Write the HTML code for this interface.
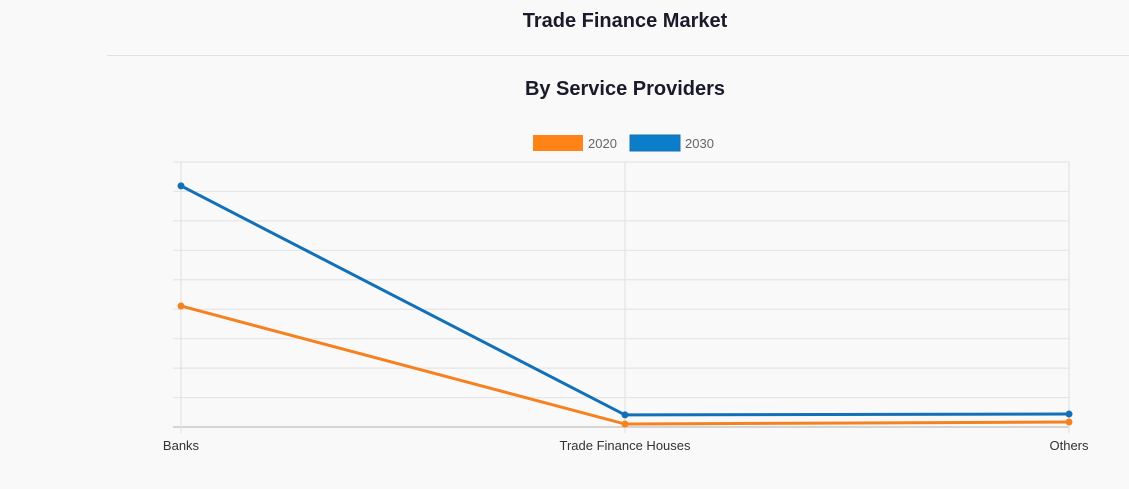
<!DOCTYPE html>
<html><head><meta charset="utf-8"><style>
body{margin:0;background:#f9f9f9;width:1129px;height:484px;overflow:hidden;font-family:"Liberation Sans",sans-serif;}
</style></head><body>
<svg width="1129" height="484" xmlns="http://www.w3.org/2000/svg">
<text x="625" y="27" text-anchor="middle" font-size="20" font-weight="bold" fill="#1a1a2a">Trade Finance Market</text>
<line x1="107" y1="55.5" x2="1129" y2="55.5" stroke="#e2e2e2"/>
<text x="625" y="95" text-anchor="middle" font-size="20" font-weight="bold" fill="#1a1a2a">By Service Providers</text>
<g>
<rect x="533" y="135" width="50" height="16" fill="#ff8316"/>
<text x="588" y="148" font-size="13" fill="#666">2020</text>
<rect x="630" y="135" width="50" height="16" fill="#0b7dc9" stroke="#1c6fb0"/>
<text x="685" y="148" font-size="13" fill="#666">2030</text>
</g>
<g id="grid"></g><g id="lines"></g><g id="labels"></g>
</svg>
<script>
const categories=["Banks","Trade Finance Houses","Others"];
const series2020=[4.11,0.1,0.17];
const series2030=[8.19,0.41,0.44];
const yMax=9;
const plotLeft=181,plotRight=1069,plotTop=162,plotBottom=427;
const NS="http://www.w3.org/2000/svg";
const xs=i=>plotLeft+i*(plotRight-plotLeft)/(categories.length-1);
const ys=v=>plotBottom-v/yMax*(plotBottom-plotTop);
const gridG=document.getElementById('grid'),linesG=document.getElementById('lines'),labelsG=document.getElementById('labels');
for(let k=0;k<=yMax;k++){
 const l=document.createElementNS(NS,'line');
 
 
 const y=ys(k);
 l.setAttribute('x1',173);l.setAttribute('x2',plotRight);l.setAttribute('y1',y);l.setAttribute('y2',y);
 l.setAttribute('stroke',k==0?'#c8c8c8':'#e6e6e6');l.setAttribute('stroke-width',k==0?1.5:1.2);
 gridG.appendChild(l);
}
categories.forEach((c,i)=>{
 const l=document.createElementNS(NS,'line');
 
 
 l.setAttribute('x1',xs(i));l.setAttribute('x2',xs(i));l.setAttribute('y1',plotTop);l.setAttribute('y2',plotBottom+6);
 l.setAttribute('stroke','#e3e3e3');l.setAttribute('stroke-width',1.2);
 gridG.appendChild(l);
 const t=document.createElementNS(NS,'text');
 
 
 t.setAttribute('x',xs(i));t.setAttribute('y',450);t.setAttribute('text-anchor','middle');
 t.setAttribute('font-size','13');t.setAttribute('fill','#333');t.textContent=c;
 labelsG.appendChild(t);
});
function draw(vals,color,name){
 const p=document.createElementNS(NS,'polyline');
 
 
 p.setAttribute('points',vals.map((v,i)=>xs(i)+','+ys(v)).join(' '));
 p.setAttribute('fill','none');p.setAttribute('stroke',color);p.setAttribute('stroke-width',3);
 linesG.appendChild(p);
 vals.forEach((v,i)=>{
  const c=document.createElementNS(NS,'circle');
  
  
  c.setAttribute('cx',xs(i));c.setAttribute('cy',ys(v));c.setAttribute('r',3.5);c.setAttribute('fill',color);
  linesG.appendChild(c);
 });
}
draw(series2020,'#f5821f','series-2020');
draw(series2030,'#1170b8','series-2030');
</script>
</body></html>
